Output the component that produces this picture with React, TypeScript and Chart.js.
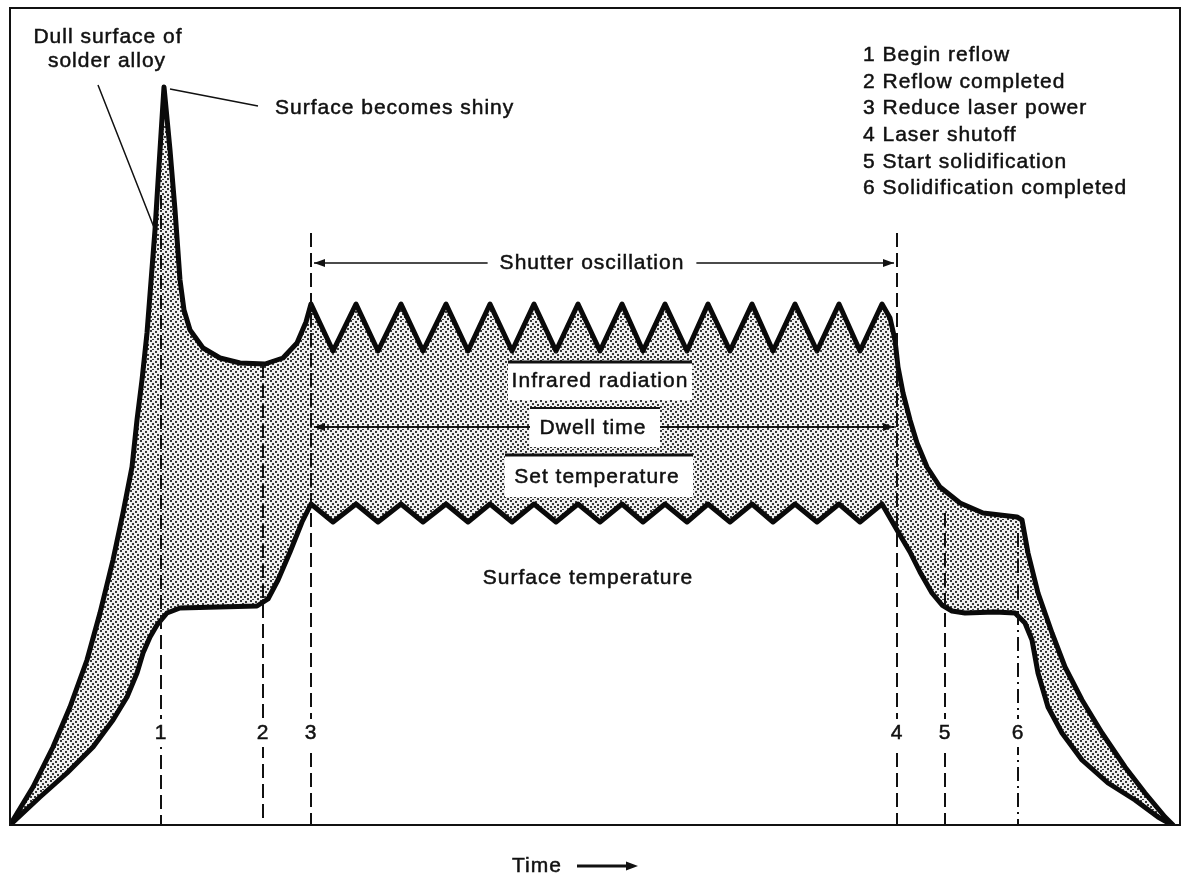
import React, { useEffect, useRef } from 'react';
import { Chart, registerables } from 'chart.js';

Chart.register(...registerables);

const FONT = '"Liberation Sans", Arial, Helvetica, sans-serif';

// Infrared radiation (upper curve): time, level
const upperTime = [
  0, 2.3, 4.3, 6.0, 7.7, 9.0, 10.3, 11.3, 12.2, 12.7, 13.2, 13.7, 14.5, 15.0, 15.4,
  16.0, 16.5, 17.0, 17.4, 18.0, 19.3, 21.0, 23.0, 25.5, 27.3, 28.7, 29.6,
  30.1, 32.3, 34.6, 36.8, 39.1, 41.3, 43.6, 45.8, 48.0, 50.2, 52.4, 54.6, 56.8, 59.0,
  61.2, 63.3, 65.5, 67.7, 69.8, 72.0, 74.2, 76.3, 78.5, 80.7, 82.9, 85.0, 87.2,
  88.0, 88.5, 88.8, 89.3, 90.0, 90.7, 91.7, 93.0, 95.0, 97.3, 100.7, 101.2,
  101.8, 102.8, 104.2, 105.5, 107.2, 109.2, 111.5, 113.5, 115.5, 116.3,
];
const upperLevel = [
  0, 3.8, 7.8, 11.8, 16.5, 21.2, 26.5, 31.2, 35.8, 40.5, 44.5, 49.2, 59.5, 67.5, 73.8,
  67.5, 61.5, 54.5, 51.5, 49.5, 47.7, 46.7, 46.2, 46.1, 46.7, 48.2, 50.3,
  52.1, 47.4, 52.1, 47.4, 52.1, 47.4, 52.1, 47.4, 52.1, 47.4, 52.1, 47.4, 52.1, 47.4,
  52.1, 47.4, 52.1, 47.4, 52.1, 47.4, 52.1, 47.4, 52.1, 47.4, 52.1, 47.4, 52.1,
  50.7, 48.5, 45.8, 43.2, 40.5, 38.2, 35.8, 33.8, 32.2, 31.2, 30.8, 30.5,
  27.2, 23.2, 19.2, 15.8, 12.5, 9.2, 5.8, 3.2, 0.8, 0,
];

// Surface temperature (lower curve): time, level
const lowerTime = [
  0, 3.0, 5.7, 8.3, 10.3, 11.7, 12.7, 13.3, 14.0, 14.7, 15.7, 17.0, 24.7, 25.8, 26.8, 28.0, 29.2,
  30.1, 32.3, 34.6, 36.8, 39.1, 41.3, 43.6, 45.8, 48.0, 50.2, 52.4, 54.6, 56.8, 59.0,
  61.2, 63.3, 65.5, 67.7, 69.8, 72.0, 74.2, 76.3, 78.5, 80.7, 82.9, 85.0, 87.2,
  88.7, 90.0, 91.0, 92.2, 93.2, 94.2, 95.5, 98.5, 100.5, 101.5, 102.2, 102.8, 103.8,
  105.2, 107.2, 109.8, 112.5, 114.8, 116.2,
];
const lowerLevel = [
  0, 2.8, 5.2, 7.8, 10.5, 12.8, 15.2, 17.2, 18.8, 20.0, 21.2, 21.7, 21.9, 22.6, 24.5, 27.3, 30.3,
  32.1, 30.3, 32.1, 30.3, 32.1, 30.3, 32.1, 30.3, 32.1, 30.3, 32.1, 30.3, 32.1, 30.3,
  32.1, 30.3, 32.1, 30.3, 32.1, 30.3, 32.1, 30.3, 32.1, 30.3, 32.1, 30.3, 32.1,
  29.5, 27.3, 25.3, 23.2, 22.0, 21.4, 21.2, 21.3, 21.2, 20.2, 18.5, 15.2, 11.8,
  9.2, 6.5, 4.2, 2.5, 0.8, 0,
];

// Event markers
const markerLabels = ['1', '2', '3', '4', '5', '6'];
const markerTime = [15.1, 25.3, 30.1, 88.7, 93.5, 100.8];
const markerTop = [63, 46.1, 59.2, 59.2, 31.2, 29.2];
const markerLabelLevel = 9.2;

const legendLines = [
  '1 Begin reflow',
  '2 Reflow completed',
  '3 Reduce laser power',
  '4 Laser shutoff',
  '5 Start solidification',
  '6 Solidification completed',
];
const legendLevels = [77.0, 74.3, 71.7, 69.0, 66.3, 63.7];

function makeStipple(): CanvasPattern | string {
  const c = document.createElement('canvas');
  c.width = 10;
  c.height = 10;
  const g = c.getContext('2d');
  if (!g) return '#b8b8b8';
  g.fillStyle = '#f0f0f0';
  g.fillRect(0, 0, 10, 10);
  g.fillStyle = '#383838';
  const dots = [[0, 0], [5, 1], [2, 3], [7, 4], [0, 6], [4, 6], [7, 8], [2, 9]];
  dots.forEach(([dx, dy]) => g.fillRect(dx, dy, 2, 2));
  return g.createPattern(c, 'repeat') || '#b8b8b8';
}

const annotations = {
  id: 'annotations',
  afterDatasetsDraw(chart: any) {
    const { ctx, chartArea: a } = chart;
    const xs = chart.scales.x;
    const ys = chart.scales.y;
    const X = (t: number) => xs.getPixelForValue(t);
    const Y = (v: number) => ys.getPixelForValue(v);
    ctx.save();
    ctx.fillStyle = '#111';
    ctx.strokeStyle = '#111';

    const text = (s: string, x: number, y: number, align: CanvasTextAlign = 'center') => {
      ctx.save();
      ctx.font = `21px ${FONT}`;
      (ctx as any).letterSpacing = '1px';
      ctx.textAlign = align;
      ctx.textBaseline = 'middle';
      ctx.fillStyle = '#111';
      ctx.strokeStyle = '#111';
      ctx.lineWidth = 0.5;
      ctx.setLineDash([]);
      ctx.fillText(s, x, y);
      ctx.strokeText(s, x, y);
      ctx.restore();
    };
    const head = (tipX: number, y: number, dir: number, len = 11, half = 4) => {
      ctx.beginPath();
      ctx.moveTo(tipX, y);
      ctx.lineTo(tipX - dir * len, y - half);
      ctx.lineTo(tipX - dir * len, y + half);
      ctx.closePath();
      ctx.fill();
    };

    // frame
    ctx.setLineDash([]);
    ctx.lineWidth = 2;
    ctx.strokeRect(a.left, a.top, a.right - a.left, a.bottom - a.top);

    // marker dashed lines
    markerTime.forEach((t, i) => {
      ctx.lineWidth = 2;
      ctx.strokeStyle = '#111';
      ctx.setLineDash(i === 5 ? [14, 5, 2, 5] : [14, 6]);
      ctx.beginPath();
      ctx.moveTo(X(t), Y(markerTop[i]));
      ctx.lineTo(X(t), a.bottom);
      ctx.stroke();
    });
    ctx.setLineDash([]);
    markerTime.forEach((t, i) => {
      const px = X(t);
      const py = Y(markerLabelLevel);
      ctx.fillStyle = '#fff';
      ctx.fillRect(px - 9, py - 14, 18, 28);
      text(markerLabels[i], px, py);
    });

    // shutter oscillation arrow
    ctx.font = `21px ${FONT}`;
    (ctx as any).letterSpacing = '1px';
    const sy = Y(56.2);
    const sx = X(58.2);
    const sw = ctx.measureText('Shutter oscillation').width;
    ctx.lineWidth = 1.5;
    ctx.strokeStyle = '#111';
    ctx.beginPath();
    ctx.moveTo(X(30.1) + 3, sy);
    ctx.lineTo(sx - sw / 2 - 12, sy);
    ctx.moveTo(sx + sw / 2 + 12, sy);
    ctx.lineTo(X(88.7) - 3, sy);
    ctx.stroke();
    ctx.fillStyle = '#111';
    head(X(30.1) + 3, sy, -1);
    head(X(88.7) - 3, sy, 1);
    text('Shutter oscillation', sx, sy);

    // dwell time arrow
    const dy = Y(39.8);
    ctx.lineWidth = 2;
    ctx.strokeStyle = '#111';
    ctx.beginPath();
    ctx.moveTo(X(30.1) + 3, dy);
    ctx.lineTo(X(88.7) - 3, dy);
    ctx.stroke();
    ctx.fillStyle = '#111';
    head(X(30.1) + 3, dy, -1);
    head(X(88.7) - 3, dy, 1);

    // white label boxes
    const box = (t0: number, t1: number, v0: number, v1: number, lw: number) => {
      ctx.fillStyle = '#fff';
      ctx.fillRect(X(t0), Y(v0), X(t1) - X(t0), Y(v1) - Y(v0));
      ctx.lineWidth = lw;
      ctx.strokeStyle = '#111';
      ctx.beginPath();
      ctx.moveTo(X(t0), Y(v0));
      ctx.lineTo(X(t1), Y(v0));
      ctx.stroke();
    };
    box(49.8, 68.2, 46.3, 42.5, 3);
    box(52.0, 65.0, 41.7, 37.8, 2);
    box(49.5, 68.3, 37.0, 32.8, 3);
    text('Infrared radiation', X(59.0), Y(44.4));
    text('Dwell time', X(58.3), Y(39.7));
    text('Set temperature', X(58.7), Y(34.8));
    text('Surface temperature', X(57.8), Y(24.7));

    // leader lines and callouts
    ctx.lineWidth = 1.5;
    ctx.strokeStyle = '#111';
    ctx.beginPath();
    ctx.moveTo(X(16.0), Y(73.6));
    ctx.lineTo(X(24.8), Y(71.9));
    ctx.moveTo(X(8.8), Y(74.0));
    ctx.lineTo(X(14.5), Y(59.5));
    ctx.stroke();
    text('Surface becomes shiny', X(26.5), Y(71.7), 'left');
    text('Dull surface of', X(9.8), Y(78.8));
    text('solder alloy', X(9.7), Y(76.4));

    // legend of markers
    legendLines.forEach((s, i) => text(s, X(85.3), Y(legendLevels[i]), 'left'));

    // time axis label
    const ty = a.bottom + 41;
    text('Time', X(52.7), ty);
    ctx.lineWidth = 3;
    ctx.strokeStyle = '#111';
    ctx.beginPath();
    ctx.moveTo(X(56.7), ty);
    ctx.lineTo(X(62.0), ty);
    ctx.stroke();
    ctx.fillStyle = '#111';
    head(X(62.8), ty, 1, 12, 4.5);

    ctx.restore();
  },
};

export default function App() {
  const ref = useRef<HTMLCanvasElement | null>(null);
  useEffect(() => {
    const canvas = ref.current;
    if (!canvas) return;
    const stipple = makeStipple();
    const chart = new Chart(canvas, {
      type: 'line',
      data: {
        datasets: [
          {
            label: 'Infrared radiation',
            data: upperTime.map((t, i) => ({ x: t, y: upperLevel[i] })),
            borderColor: '#0a0a0a',
            borderWidth: 5,
            backgroundColor: stipple as any,
            fill: '+1',
            pointRadius: 0,
            tension: 0,
            borderJoinStyle: 'round',
            borderCapStyle: 'round',
          },
          {
            label: 'Surface temperature',
            data: lowerTime.map((t, i) => ({ x: t, y: lowerLevel[i] })),
            borderColor: '#0a0a0a',
            borderWidth: 5,
            fill: false,
            pointRadius: 0,
            tension: 0,
            borderJoinStyle: 'round',
            borderCapStyle: 'round',
          },
        ],
      },
      options: {
        responsive: false,
        animation: false,
        events: [],
        layout: { padding: { left: 10, top: 8, right: 3, bottom: 50 } },
        scales: {
          x: { type: 'linear', min: 0, max: 117, display: false },
          y: { type: 'linear', min: 0, max: 81.7, display: false },
        },
        plugins: {
          legend: { display: false },
          tooltip: { enabled: false },
          filler: { drawTime: 'beforeDatasetsDraw' },
        } as any,
      },
      plugins: [annotations],
    });
    return () => chart.destroy();
  }, []);
  return (
    <div style={{ position: 'absolute', left: 0, top: 0, width: 1183, height: 875, background: '#fff' }}>
      <canvas ref={ref} width={1183} height={875} />
    </div>
  );
}
